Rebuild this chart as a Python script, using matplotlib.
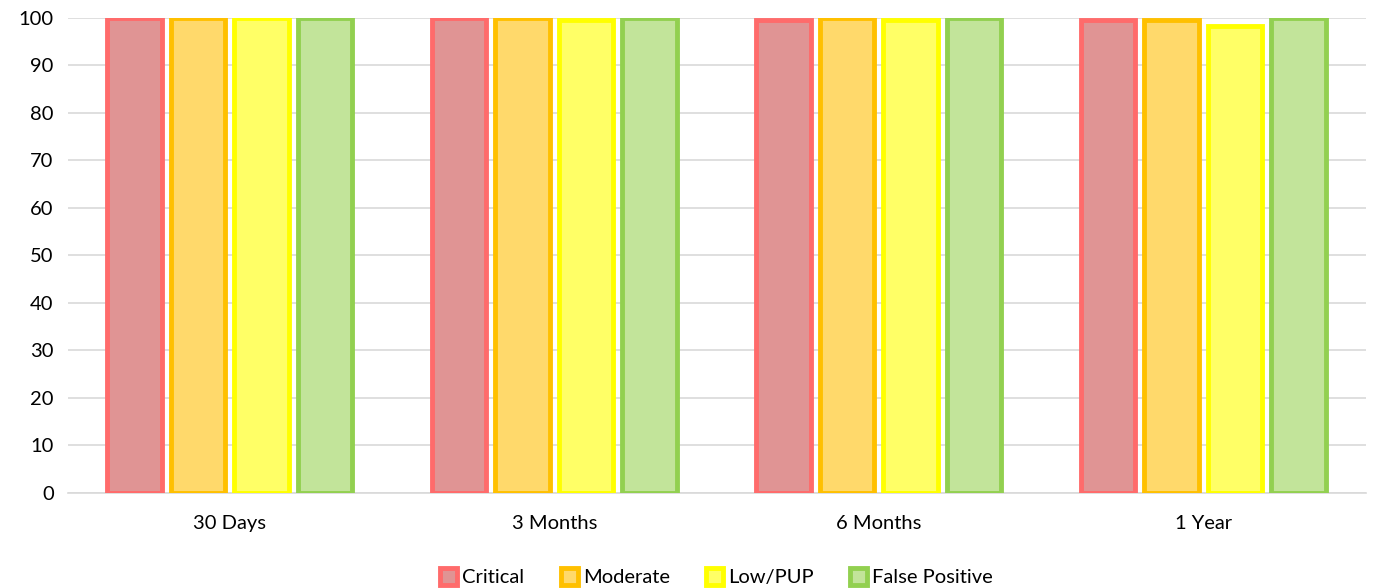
import matplotlib
matplotlib.use("Agg")
from matplotlib import pyplot as plt
import numpy as np

categories = ["30 Days", "3 Months", "6 Months", "1 Year"]
series = ["Critical", "Moderate", "Low/PUP", "False Positive"]
critical = [100, 100, 99.4, 99.4]
moderate = [100, 100, 100, 99.4]
low_pup = [100, 99.4, 99.4, 98.3]
false_pos = [100, 100, 100, 100]

EDGE = ["#ff6b6b", "#ffc000", "#ffff00", "#92d050"]
FILL = ["#e09494", "#ffd96b", "#ffff66", "#c2e49a"]

plt.rcParams["font.family"] = ["Lato", "DejaVu Sans"]

fig = plt.figure(figsize=(13.78, 5.88), dpi=100)
ax = fig.add_axes([0.049, 0.162, 0.942, 0.808])

x = np.arange(len(categories))
slot = 0.196
width = 0.168
data = [critical, moderate, low_pup, false_pos]
for i, vals in enumerate(data):
    ax.bar(x + (i - 1.5) * slot, vals, width, color=FILL[i],
           edgecolor=EDGE[i], linewidth=3.5, label=series[i], zorder=3)

ax.set_ylim(0, 100)
ax.set_xlim(-0.5, len(categories) - 0.5)
ax.set_yticks(range(0, 101, 10))
ax.set_xticks(x)
ax.set_xticklabels(categories)
ax.grid(axis="y", color="#d9d9d9", linewidth=1.2, zorder=0)
for s in ["top", "right", "left"]:
    ax.spines[s].set_visible(False)
ax.spines["bottom"].set_color("#d9d9d9")
ax.spines["bottom"].set_linewidth(1.2)
ax.tick_params(axis="both", length=0, labelsize=14.5, colors="black")
ax.tick_params(axis="x", pad=16)
ax.tick_params(axis="y", pad=10)

ax.legend(loc="lower center", bbox_to_anchor=(0.5, -0.235), ncol=4,
          frameon=False, fontsize=14.5, handlelength=0.85, handleheight=0.9,
          handletextpad=0.25, columnspacing=1.8)

fig.savefig("out.png", dpi=100)
